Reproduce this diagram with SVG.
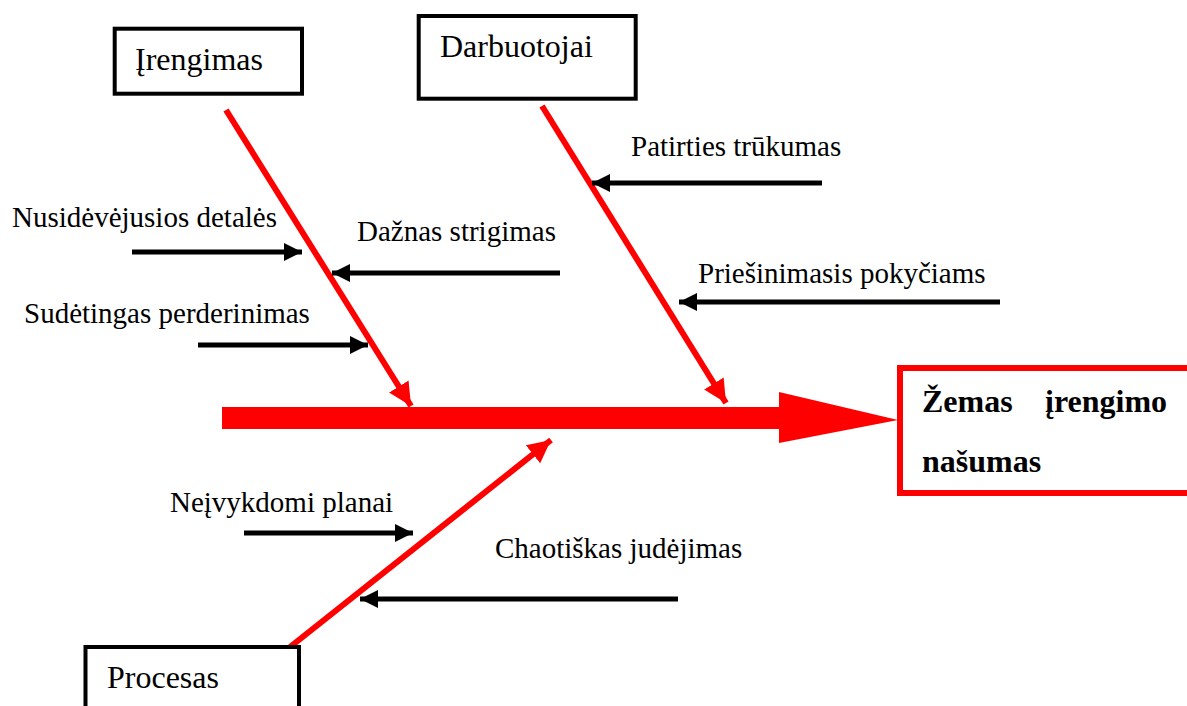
<svg xmlns="http://www.w3.org/2000/svg" width="1187" height="706" viewBox="0 0 1187 706">
  <defs>
    <style>
      .box { fill: #ffffff; stroke: #000000; stroke-width: 4; }
      .result { fill: #ffffff; stroke: #ff0000; stroke-width: 6; }
      .title { font-family: "Liberation Serif", "Times New Roman", serif; font-size: 32px; fill: #000000; }
      .label { font-family: "Liberation Serif", "Times New Roman", serif; font-size: 29px; fill: #000000; }
      .effect { font-family: "Liberation Serif", "Times New Roman", serif; font-size: 32px; font-weight: bold; fill: #000000; }
      .bone { stroke: #ff0000; stroke-width: 6; fill: none; }
      .cause { stroke: #000000; stroke-width: 5; fill: none; }
    </style>
    <marker id="redHead" viewBox="0 0 10 10" refX="10" refY="5" markerUnits="userSpaceOnUse" markerWidth="23" markerHeight="23" orient="auto">
      <path d="M0,0 L10,5 L0,10 z" fill="#ff0000"/>
    </marker>
    <marker id="blackHead" viewBox="0 0 10 10" refX="10" refY="5" markerUnits="userSpaceOnUse" markerWidth="18" markerHeight="18" orient="auto">
      <path d="M0,0 L10,5 L0,10 z" fill="#000000"/>
    </marker>
  </defs>
  <rect width="1187" height="706" fill="#ffffff"/>

  <!-- Connectors: spine, category bones and cause arrows -->
  <g id="connectors">
    <rect x="222" y="407" width="558" height="22" fill="#ff0000"/>
    <polygon points="779,392 898,420 779,443" fill="#ff0000"/>

    <line class="bone" x1="226" y1="110" x2="411" y2="406" marker-end="url(#redHead)"/>
    <line class="bone" x1="542" y1="106" x2="726" y2="403" marker-end="url(#redHead)"/>
    <line class="bone" x1="290" y1="647" x2="551" y2="440" marker-end="url(#redHead)"/>

    <line class="cause" x1="132" y1="252" x2="302" y2="252" marker-end="url(#blackHead)"/>
    <line class="cause" x1="560" y1="273" x2="332" y2="273" marker-end="url(#blackHead)"/>
    <line class="cause" x1="198" y1="345" x2="368" y2="345" marker-end="url(#blackHead)"/>
    <line class="cause" x1="822" y1="183" x2="592" y2="183" marker-end="url(#blackHead)"/>
    <line class="cause" x1="1000" y1="302" x2="679" y2="302" marker-end="url(#blackHead)"/>
    <line class="cause" x1="244" y1="533" x2="413" y2="533" marker-end="url(#blackHead)"/>
    <line class="cause" x1="678" y1="599" x2="360" y2="599" marker-end="url(#blackHead)"/>
  </g>

  <!-- Category boxes -->
  <g id="node-irengimas">
    <rect class="box" x="114.7" y="28.7" width="187.3" height="65"/>
    <text class="title" x="135" y="70">Įrengimas</text>
  </g>
  <g id="node-darbuotojai">
    <rect class="box" x="418.7" y="16" width="217" height="82.7"/>
    <text class="title" x="440" y="57">Darbuotojai</text>
  </g>
  <g id="node-procesas">
    <rect class="box" x="85.5" y="647" width="213.5" height="80"/>
    <text class="title" x="107" y="688">Procesas</text>
  </g>

  <!-- Effect box -->
  <g id="node-effect">
    <rect class="result" x="900" y="368" width="300" height="125"/>
    <text class="effect" x="922" y="412">Žemas</text>
    <text class="effect" x="1045" y="412">įrengimo</text>
    <text class="effect" x="922" y="472">našumas</text>
  </g>

  <!-- Cause labels -->
  <g id="labels">
    <text class="label" x="12" y="227">Nusidėvėjusios detalės</text>
    <text class="label" x="357" y="241">Dažnas strigimas</text>
    <text class="label" x="24" y="323">Sudėtingas perderinimas</text>
    <text class="label" x="631" y="156">Patirties trūkumas</text>
    <text class="label" x="698" y="283">Priešinimasis pokyčiams</text>
    <text class="label" x="170" y="512">Neįvykdomi planai</text>
    <text class="label" x="495" y="558">Chaotiškas judėjimas</text>
  </g>
</svg>
